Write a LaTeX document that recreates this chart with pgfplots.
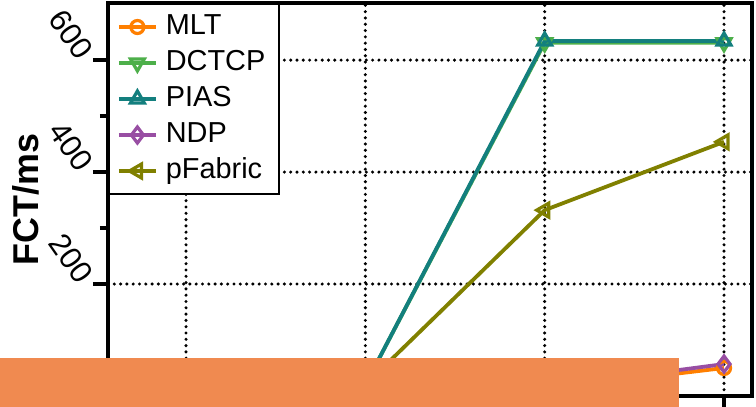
\documentclass[border=0pt]{standalone}
\usepackage{pgfplots}
\pgfplotsset{compat=1.18}
\usepackage{fontspec}
\setmainfont{Liberation Sans}

\definecolor{cMLT}{HTML}{FF7F00}
\definecolor{cDCTCP}{HTML}{4DAF4A}
\definecolor{cPIAS}{HTML}{137F7E}
\definecolor{cNDP}{HTML}{984EA3}
\definecolor{cPF}{HTML}{808000}
\definecolor{cBand}{HTML}{F08A50}

\newcommand\labfont{\fontsize{29}{34}\selectfont}
\newcommand\tickfont{\fontsize{31}{34}\selectfont}
\newcommand\titfont{\fontsize{36}{40}\selectfont\bfseries}

\begin{document}
\begin{tikzpicture}
\useasboundingbox (0,0) rectangle (756bp,407bp);
\begin{axis}[
  at={(108bp,11bp)}, anchor=south west,
  scale only axis, width=644bp, height=393bp,
  xmin=0.565, xmax=4.156, ymin=0, ymax=702,
  xtick={1,2,3,4}, xticklabels={},
  ytick={200,400,600}, minor y tick num=1,
  tick pos=left,
  tick align=outside,
  major tick length=15bp, minor tick length=8bp,
  xtick style={/pgfplots/major tick length=16bp},
  every tick/.style={black, line width=3.5bp},
  axis line style={line width=4bp},
  grid=major,
  major grid style={black, line width=3.4bp, dash pattern=on 0pt off 6.3bp, line cap=round},
  /pgf/number format/assume math mode=true,
  every tick label/.append style={font=\tickfont},
  yticklabel style={xshift=-22bp, yshift=26bp, rotate=-55, anchor=center},
  ylabel={FCT/ms},
  every axis y label/.style={at={(rel axis cs:0,0.5)}, xshift=-82bp, rotate=90, anchor=center,
    font=\titfont},
  every axis legend/.append style={at={(rel axis cs:0,1)}, anchor=north west, draw=black, line width=2bp,
    fill=white, font=\labfont, inner xsep=8bp, inner ysep=5bp,
    row sep=0pt, column sep=2bp,
    nodes={text height=21bp, text depth=6bp, inner ysep=4.5bp, inner xsep=6bp}},
  legend cell align=left,
  legend image code/.code={
    \draw[mark repeat=2, mark phase=2] plot coordinates {(0bp,0bp) (18.5bp,0bp) (37bp,0bp)};
  },
]
\addplot[cMLT, line width=3.8bp, mark=o, mark size=6.5bp, mark options={solid, fill=white, line width=3.2bp}]
  coordinates {(1,4) (2,7) (3,12) (4,50)};
\addlegendentry{MLT}
\addplot[cDCTCP, line width=3.8bp, mark=triangle, mark size=8bp, mark options={solid, fill=white, line width=3.2bp, rotate=180}]
  coordinates {(1,6) (2,20) (3,631) (4,631)};
\addlegendentry{DCTCP}
\addplot[cPIAS, line width=3.8bp, mark=triangle, mark size=8bp, mark options={solid, fill=white, line width=3.2bp}]
  coordinates {(1,6) (2,20) (3,634) (4,634)};
\addlegendentry{PIAS}
\addplot[cNDP, line width=3.8bp, mark=diamond, mark size=8bp, mark options={solid, fill=white, line width=3.2bp}]
  coordinates {(1,5) (2,8) (3,15) (4,57)};
\addlegendentry{NDP}
\addplot[cPF, line width=3.8bp, mark=triangle, mark size=8bp, mark options={solid, fill=white, line width=3.2bp, rotate=90}]
  coordinates {(1,6) (2,20) (3,332) (4,454)};
\addlegendentry{pFabric}
\end{axis}
% banner strip across the lower edge
\fill[cBand] (0,0) rectangle (679bp,49bp);
\end{tikzpicture}
\end{document}
